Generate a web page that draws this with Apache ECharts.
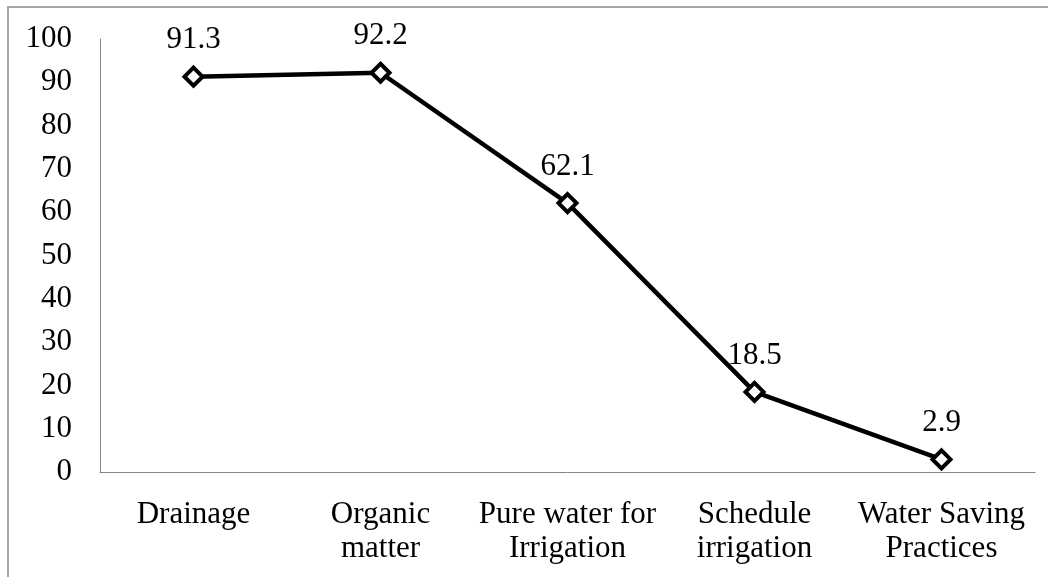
<!DOCTYPE html>
<html>
<head>
<meta charset="utf-8">
<script src="https://cdn.jsdelivr.net/npm/echarts@6/dist/echarts.min.js"></script>
<style>
  html, body { margin: 0; padding: 0; background: #fff; }
  #chart { width: 1048px; height: 577px; }
</style>
</head>
<body>
<div id="chart"></div>
<script>
// 类别与数值
const categories = ['Drainage', 'Organic\nmatter', 'Pure water for\nIrrigation', 'Schedule\nirrigation', 'Water Saving\nPractices']
const values = [91.3, 92.2, 62.1, 18.5, 2.9]
const yMin = 0
const yMax = 100
const yStep = 10

const font = 'Liberation Serif, Times New Roman, serif'
const chart = echarts.init(document.getElementById('chart'))

const option = {
  animation: false,
  backgroundColor: '#fff',
  // 外框（图表区域边框）
  graphic: [{
    type: 'rect',
    shape: { x: 8, y: 7, width: 1200, height: 800 },
    style: { fill: 'none', stroke: '#a6a6a6', lineWidth: 2 },
    silent: true
  }],
  grid: { left: 100, right: 13, top: 39, bottom: 105 },
  xAxis: {
    type: 'category',
    data: categories,
    axisLine: { lineStyle: { color: '#868686', width: 1 } },
    axisTick: { show: false },
    axisLabel: {
      color: '#000',
      fontFamily: font,
      fontSize: 31,
      lineHeight: 34,
      margin: 26,
      interval: 0
    }
  },
  yAxis: {
    type: 'value',
    min: yMin,
    max: yMax,
    interval: yStep,
    splitLine: { show: false },
    axisLine: { show: true, lineStyle: { color: '#868686', width: 1 } },
    axisTick: { show: false },
    axisLabel: {
      color: '#000',
      fontFamily: font,
      fontSize: 31,
      margin: 28
    }
  },
  series: [{
    type: 'line',
    data: values,
    symbol: 'diamond',
    symbolSize: 18,
    lineStyle: { color: '#000', width: 4.5 },
    itemStyle: { color: '#fff', borderColor: '#000', borderWidth: 4 },
    label: {
      show: true,
      position: 'top',
      distance: 10,
      color: '#000',
      fontFamily: font,
      fontSize: 31
    }
  }]
}
chart.setOption(option)
</script>
</body>
</html>
